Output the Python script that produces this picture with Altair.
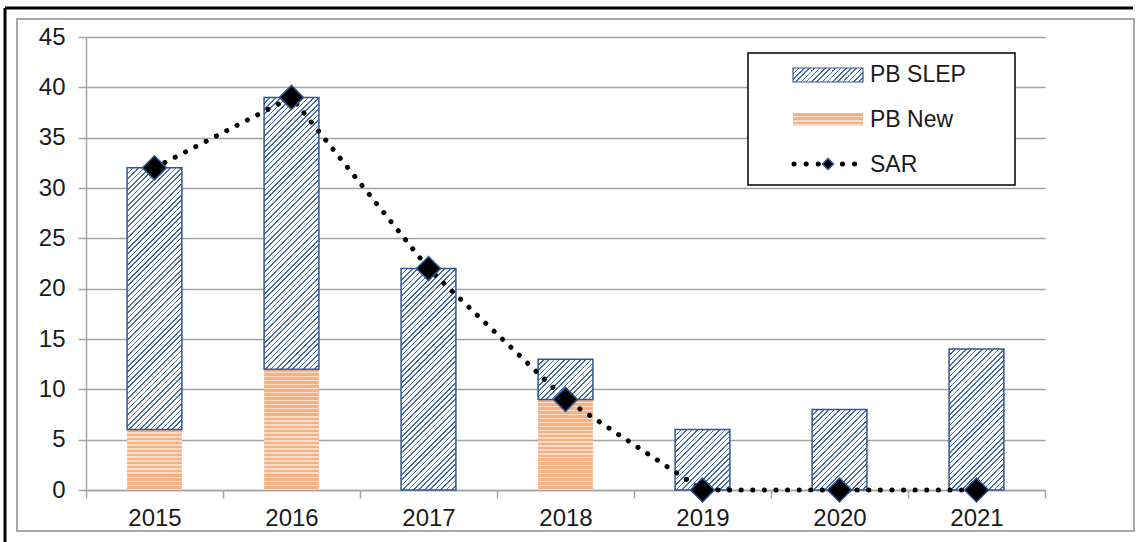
import altair as alt
import pandas as pd

# ---- data ----
years = ["2015", "2016", "2017", "2018", "2019", "2020", "2021"]
pb_new = [6, 12, 0, 9, 0, 0, 0]
pb_slep = [26, 27, 22, 4, 6, 8, 14]
sar = [32, 39, 22, 9, 0, 0, 0]
y_ticks = [0, 5, 10, 15, 20, 25, 30, 35, 40, 45]
legend_labels = ["PB SLEP", "PB New", "SAR"]

W, H = 959, 453
YMAX = 45
BAND = 0.4
BLUE_LINE = "#4670AE"
BLUE_EDGE = "#2F5597"
ORANGE = "#F5B183"
ORANGE_LIGHT = "#FCDCC4"
GRID = "#A3A3A3"
TEXT = "#1A1A1A"
FONT = "Liberation Sans"

rows = []
for i, yv in enumerate(years):
    if pb_new[i] > 0:
        rows.append({"year": yv, "series": "PB New", "start": 0, "end": pb_new[i]})
    rows.append({"year": yv, "series": "PB SLEP", "start": pb_new[i], "end": pb_new[i] + pb_slep[i]})
bars = pd.DataFrame(rows)
line_df = pd.DataFrame({"year": years, "sar": sar})
one = pd.DataFrame({"k": [0]})


def hatch(w, h, hp=5.4, f=0.3, c1=BLUE_LINE, c2="#FFFFFF"):
    t = (w + h) / (w * w + h * h)
    n = max(1, round((w + h) / hp))
    stops = []
    for i in range(n):
        a, b, c = i / n, (i + f) / n, (i + 1) / n
        stops += [{"offset": a, "color": c1}, {"offset": b, "color": c1},
                  {"offset": b, "color": c2}, {"offset": c, "color": c2}]
    return {"gradient": "linear", "x1": 0, "y1": 0, "x2": w * t, "y2": h * t, "stops": stops}


def dots(h, period=4.0, f=0.35, c1=ORANGE, c2=ORANGE_LIGHT):
    n = max(1, round(h / period))
    stops = []
    for i in range(n):
        a, b, c = i / n, (i + 1 - f) / n, (i + 1) / n
        stops += [{"offset": a, "color": c1}, {"offset": b, "color": c1},
                  {"offset": b, "color": c2}, {"offset": c, "color": c2}]
    return {"gradient": "linear", "x1": 0, "y1": 0, "x2": 0, "y2": 1, "stops": stops}


x_enc = alt.X("year:N", scale=alt.Scale(domain=years, paddingInner=0, paddingOuter=0),
              axis=alt.Axis(title=None, labelAngle=0, tickBand="extent", ticks=True, tickSize=8,
                            tickColor=GRID, domainColor=GRID, tickWidth=1.5, domainWidth=1.5,
                            labelFontSize=24, labelFont=FONT, labelColor=TEXT, labelPadding=8,
                            grid=False))
y_scale = alt.Scale(domain=[0, YMAX], nice=False)
y_axis = alt.Axis(title=None, values=y_ticks, grid=True, gridColor=GRID, gridWidth=1.5,
                  tickSize=8, tickColor=GRID, tickWidth=1.5, domainColor=GRID, domainWidth=1.5,
                  labelFontSize=24, labelFont=FONT, labelColor=TEXT, labelPadding=13)

layers = []

# frames (decoration)
layers.append(alt.Chart(one).mark_rect(fill="#FFFFFF", fillOpacity=0, stroke="#A8A8A8", strokeWidth=2)
              .encode(x=alt.value(-69), x2=alt.value(1048), y=alt.value(-18), y2=alt.value(494)))
layers.append(alt.Chart(one).mark_rule(color="#000000", strokeWidth=3)
              .encode(x=alt.value(-81), x2=alt.value(1047), y=alt.value(-29)))
layers.append(alt.Chart(one).mark_rule(color="#000000", strokeWidth=3)
              .encode(x=alt.value(-81), y=alt.value(-29), y2=alt.value(510)))

bw = BAND * W / len(years)
for r in rows:
    h = (r["end"] - r["start"]) * H / YMAX
    base = alt.Chart(bars).transform_filter(
        (alt.datum.year == r["year"]) & (alt.datum.series == r["series"]))
    if r["series"] == "PB SLEP":
        mk = base.mark_bar(width=alt.RelativeBandSize(BAND), fill=hatch(bw, h),
                           stroke=BLUE_EDGE, strokeWidth=1.5)
    else:
        mk = base.mark_bar(width=alt.RelativeBandSize(BAND), fill=dots(h), strokeWidth=0)
    layers.append(mk.encode(x=x_enc, y=alt.Y("start:Q", scale=y_scale, axis=y_axis), y2="end:Q"))

line = alt.Chart(line_df).mark_line(color="#000000", strokeWidth=5, strokeDash=[0.1, 11.5],
                                    strokeCap="round").encode(
    x=x_enc, y=alt.Y("sar:Q", scale=y_scale, axis=y_axis))
pts = alt.Chart(line_df).mark_point(shape="diamond", filled=True, fill="#000000", stroke=BLUE_EDGE,
                                    strokeWidth=1.5, size=580, opacity=1).encode(
    x=x_enc, y=alt.Y("sar:Q", scale=y_scale, axis=y_axis))
layers += [line, pts]

# legend (decoration)
layers.append(alt.Chart(one).mark_rect(fill="#FFFFFF", stroke="#000000", strokeWidth=1.5)
              .encode(x=alt.value(662), x2=alt.value(929), y=alt.value(16), y2=alt.value(148)))
layers.append(alt.Chart(one).mark_rect(fill=hatch(70, 14), stroke=BLUE_EDGE, strokeWidth=1.2)
              .encode(x=alt.value(707), x2=alt.value(777), y=alt.value(31), y2=alt.value(45)))
layers.append(alt.Chart(one).mark_rect(fill=dots(13), strokeWidth=0)
              .encode(x=alt.value(707), x2=alt.value(777), y=alt.value(76), y2=alt.value(89)))
layers.append(alt.Chart(one).mark_rule(color="#000000", strokeWidth=5, strokeDash=[0.1, 12],
                                       strokeCap="round")
              .encode(x=alt.value(708), x2=alt.value(771), y=alt.value(127)))
layers.append(alt.Chart(one).mark_point(shape="diamond", filled=True, fill="#000000", stroke=BLUE_EDGE,
                                        strokeWidth=1.5, size=120, opacity=1)
              .encode(x=alt.value(742), y=alt.value(127)))
for lbl, yy in zip(legend_labels, [38, 83, 128]):
    layers.append(alt.Chart(one).mark_text(text=lbl, align="left", baseline="middle", fontSize=23,
                                           font=FONT, color=TEXT)
                  .encode(x=alt.value(784), y=alt.value(yy)))

chart = alt.layer(*layers).properties(
    width=W, height=H,
    autosize=alt.AutoSizeParams(type="none"),
    padding={"left": 86, "top": 37, "right": 98, "bottom": 52},
    background="#FFFFFF",
).configure_view(strokeOpacity=0)

chart.save("out.html", embed_options={"renderer": "svg", "actions": False})
